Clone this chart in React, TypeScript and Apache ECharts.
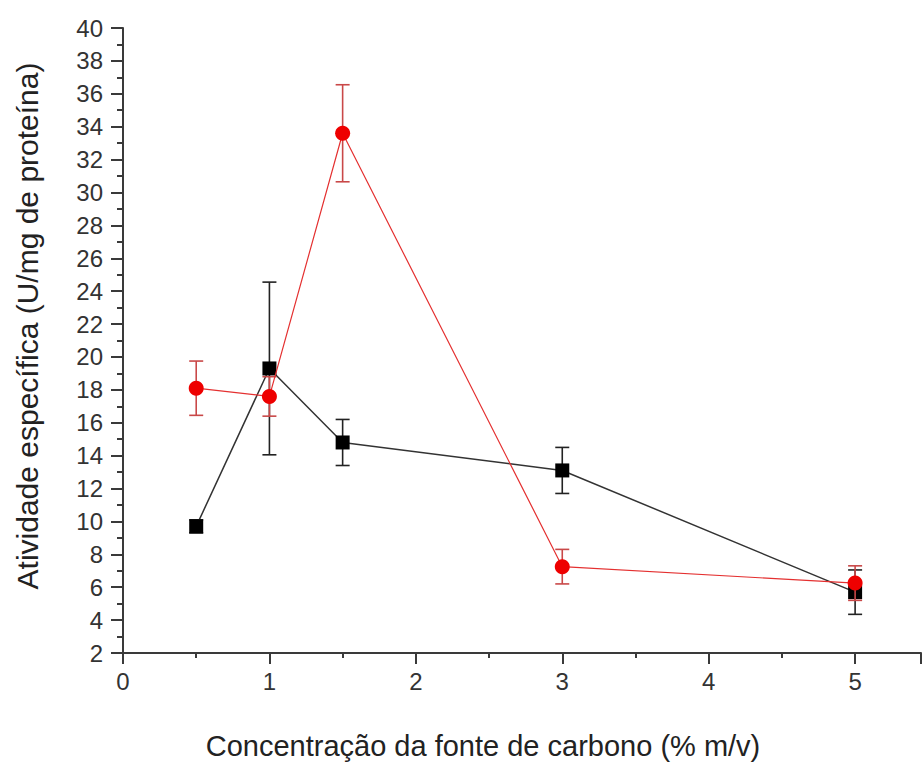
import React, { useEffect, useRef } from "react";
import * as echarts from "echarts";

const xValues = [0.5, 1.0, 1.5, 3.0, 5.0];
const blackValues = [9.7, 19.3, 14.8, 13.1, 5.7];
const blackErrors = [0.4, 5.25, 1.4, 1.4, 1.35];
const redValues = [18.1, 17.6, 33.6, 7.25, 6.25];
const redErrors = [1.65, 1.2, 2.95, 1.05, 1.05];

const yTitle = "Atividade específica (U/mg de proteína)";
const xTitle = "Concentração da fonte de carbono (% m/v)";

const FONT = "'Liberation Sans', Arial, sans-serif";

function errorSeries(values: number[], errors: number[], color: string, z: number) {
  return {
    type: "custom",
    z,
    silent: true,
    data: xValues.map((x, i) => [x, values[i] - errors[i], values[i] + errors[i]]),
    renderItem: (params: any, api: any) => {
      const x = api.value(0);
      const lo = api.coord([x, api.value(1)]);
      const hi = api.coord([x, api.value(2)]);
      const w = 7;
      const style = { stroke: color, lineWidth: 1.6 };
      return {
        type: "group",
        children: [
          { type: "line", shape: { x1: hi[0], y1: hi[1], x2: lo[0], y2: lo[1] }, style },
          { type: "line", shape: { x1: hi[0] - w, y1: hi[1], x2: hi[0] + w, y2: hi[1] }, style },
          { type: "line", shape: { x1: lo[0] - w, y1: lo[1], x2: lo[0] + w, y2: lo[1] }, style },
        ],
      };
    },
  };
}

export default function App() {
  const ref = useRef<HTMLDivElement>(null);
  useEffect(() => {
    if (!ref.current) return;
    const chart = echarts.init(ref.current, null, { renderer: "svg" });
    const axisColor = "#3a3a3a";
    chart.setOption({
      animation: false,
      backgroundColor: "#ffffff",
      grid: { left: 123, right: 0, top: 28, bottom: 109 },
      xAxis: {
        type: "value",
        min: 0,
        max: 5.45,
        interval: 1,
        axisLine: { lineStyle: { color: axisColor, width: 2 } },
        axisTick: { inside: false, length: 11, lineStyle: { color: axisColor, width: 2 } },
        minorTick: { show: true, splitNumber: 2, length: 5, lineStyle: { color: axisColor, width: 2 } },
        splitLine: { show: false },
        axisLabel: {
          color: "#333",
          fontSize: 24,
          fontFamily: FONT,
          margin: 16,
          formatter: (v: number) => (v > 5 ? "" : String(v)),
        },
      },
      yAxis: {
        type: "value",
        min: 2,
        max: 40,
        interval: 2,
        axisLine: { show: true, lineStyle: { color: axisColor, width: 2 } },
        axisTick: { inside: false, length: 12, lineStyle: { color: axisColor, width: 2 } },
        minorTick: { show: true, splitNumber: 2, length: 6, lineStyle: { color: axisColor, width: 2 } },
        splitLine: { show: false },
        axisLabel: { color: "#333", fontSize: 24, fontFamily: FONT, margin: 20 },
      },
      graphic: [
        {
          type: "text",
          x: 27,
          y: 326,
          rotation: Math.PI / 2,
          style: {
            text: yTitle,
            fill: "#222",
            font: `30px ${FONT}`,
            textAlign: "center",
            textVerticalAlign: "middle",
          },
        },
        {
          type: "text",
          x: 483,
          y: 746,
          style: {
            text: xTitle,
            fill: "#222",
            font: `29px ${FONT}`,
            textAlign: "center",
            textVerticalAlign: "middle",
          },
        },
      ],
      series: [
        errorSeries(blackValues, blackErrors, "#222", 2),
        {
          type: "line",
          z: 3,
          data: xValues.map((x, i) => [x, blackValues[i]]),
          symbol: "rect",
          symbolSize: [14, 14],
          lineStyle: { color: "#333", width: 1.5 },
          itemStyle: { color: "#000" },
        },
        errorSeries(redValues, redErrors, "#c94848", 4),
        {
          type: "line",
          z: 5,
          data: xValues.map((x, i) => [x, redValues[i]]),
          symbol: "circle",
          symbolSize: 15,
          lineStyle: { color: "#e43030", width: 1.2 },
          itemStyle: { color: "#ee0000" },
        },
      ],
    });
    return () => chart.dispose();
  }, []);
  return (
    <div
      ref={ref}
      style={{ position: "fixed", left: 0, top: 0, width: 924, height: 762, background: "#fff" }}
    />
  );
}
